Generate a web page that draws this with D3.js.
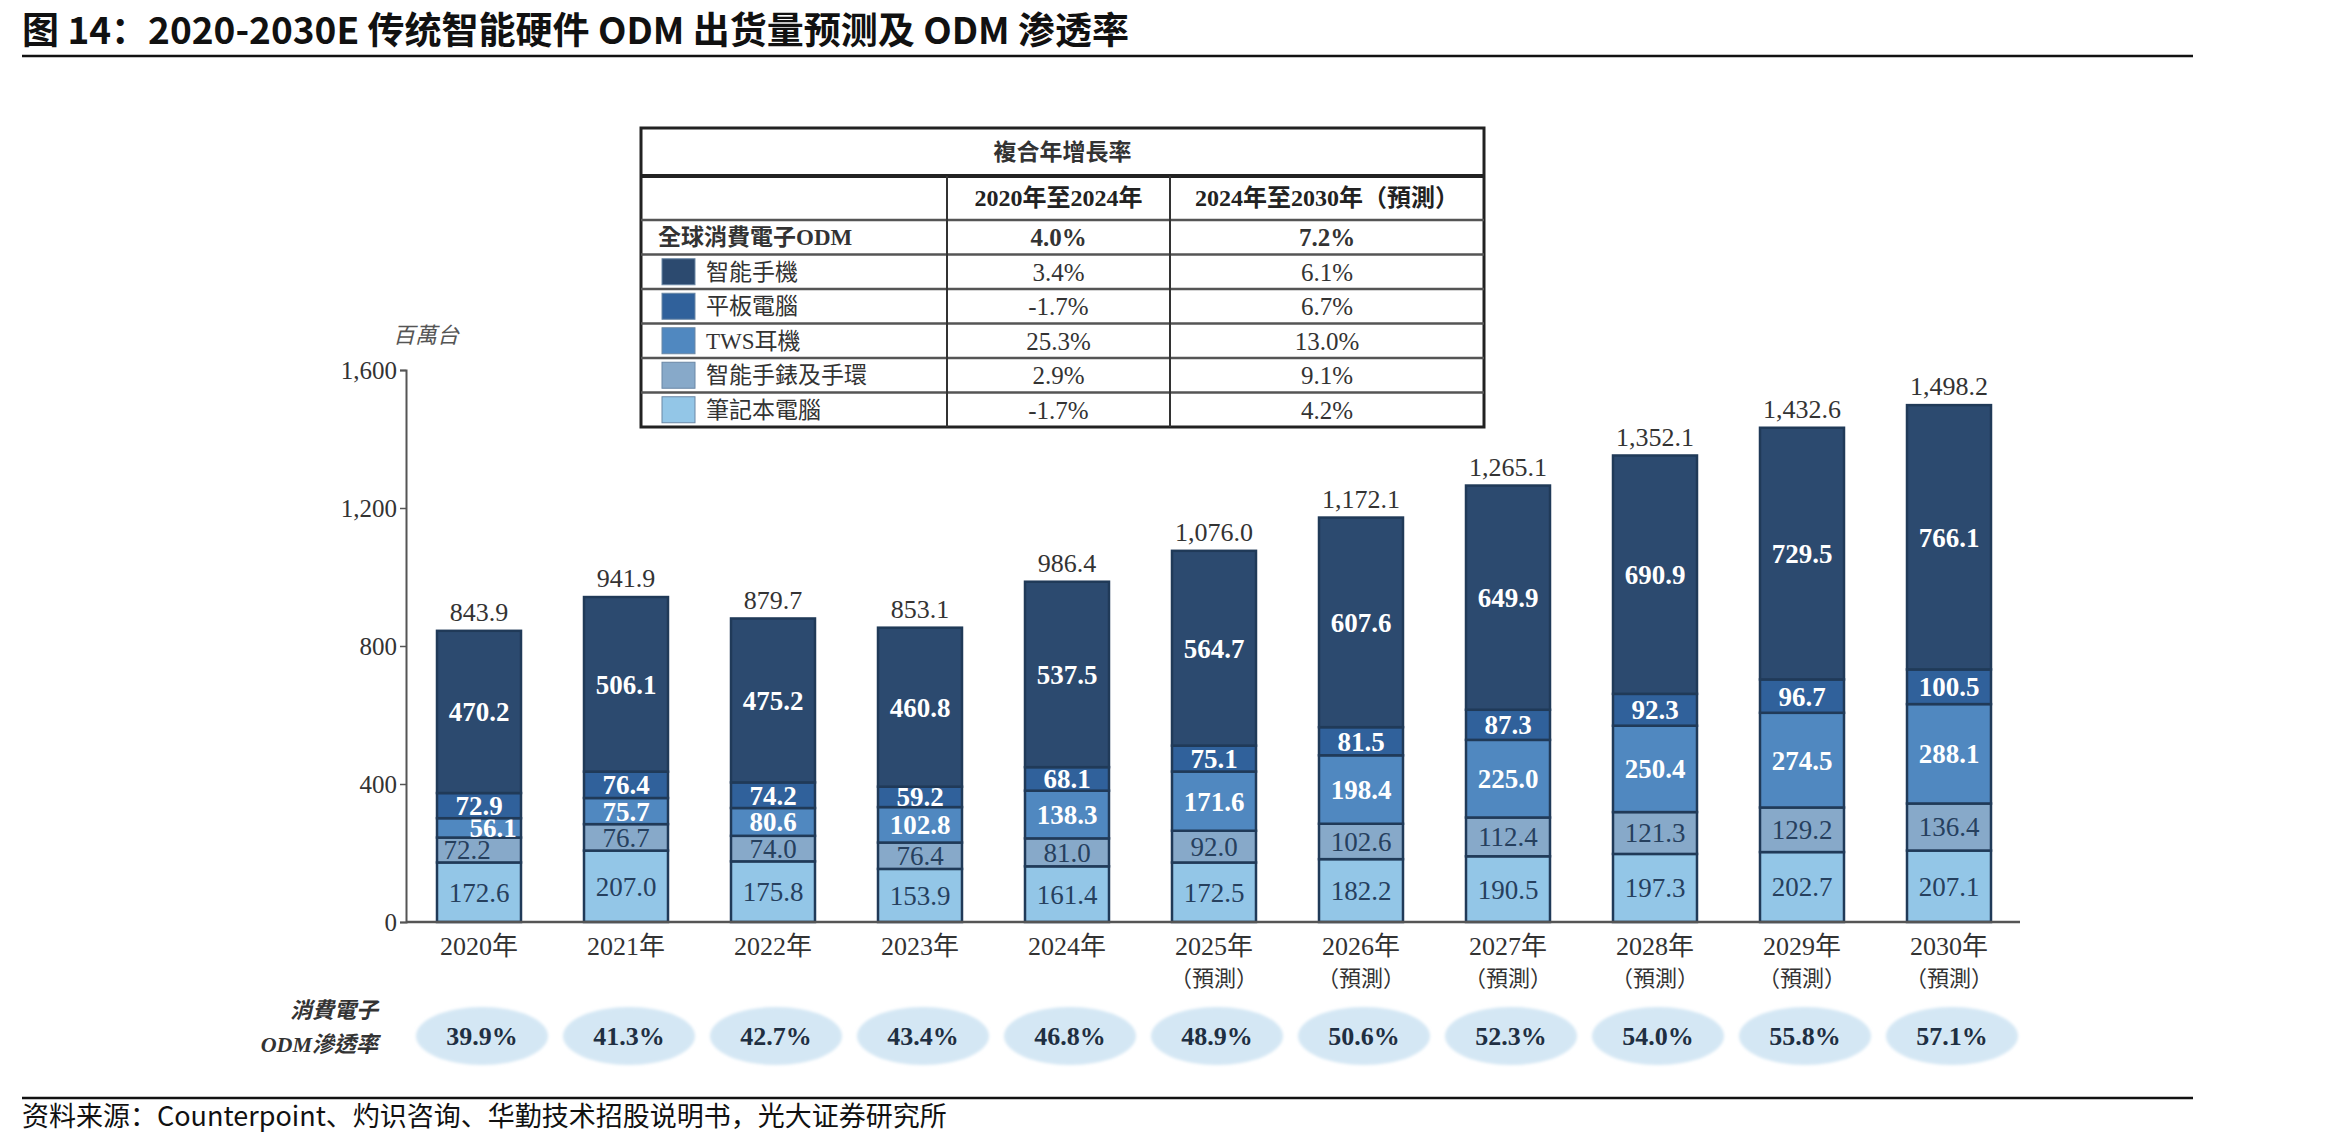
<!DOCTYPE html>
<html>
<head>
<meta charset="utf-8">
<script src="https://cdn.jsdelivr.net/npm/d3@7"></script>
<style>
  html, body { margin: 0; padding: 0; background: #fff; }
  svg { display: block; }
</style>
</head>
<body>
<svg id="chart" width="2327" height="1144"></svg>
<script>
// ---------------- DATA ----------------
const years = ["2020年","2021年","2022年","2023年","2024年","2025年","2026年","2027年","2028年","2029年","2030年"];
const forecastFlags = [false,false,false,false,false,true,true,true,true,true,true];
const seriesNames = ["智能手機","平板電腦","TWS耳機","智能手錶及手環","筆記本電腦"];
const smartphone = [470.2, 506.1, 475.2, 460.8, 537.5, 564.7, 607.6, 649.9, 690.9, 729.5, 766.1];
const tablet     = [72.9, 76.4, 74.2, 59.2, 68.1, 75.1, 81.5, 87.3, 92.3, 96.7, 100.5];
const tws        = [56.1, 75.7, 80.6, 102.8, 138.3, 171.6, 198.4, 225.0, 250.4, 274.5, 288.1];
const watch      = [72.2, 76.7, 74.0, 76.4, 81.0, 92.0, 102.6, 112.4, 121.3, 129.2, 136.4];
const notebook   = [172.6, 207.0, 175.8, 153.9, 161.4, 172.5, 182.2, 190.5, 197.3, 202.7, 207.1];
const totals     = [843.9, 941.9, 879.7, 853.1, 986.4, 1076.0, 1172.1, 1265.1, 1352.1, 1432.6, 1498.2];
const penetration = [39.9, 41.3, 42.7, 43.4, 46.8, 48.9, 50.6, 52.3, 54.0, 55.8, 57.1];
const yTicks = [0, 400, 800, 1200, 1600];
const cagrRowNames = ["全球消費電子ODM","智能手機","平板電腦","TWS耳機","智能手錶及手環","筆記本電腦"];
const cagr2020to2024 = ["4.0%","3.4%","-1.7%","25.3%","2.9%","-1.7%"];
const cagr2024to2030 = ["7.2%","6.1%","6.7%","13.0%","9.1%","4.2%"];
const tableTitle = "複合年增長率";
const tableHeaders = ["2020年至2024年","2024年至2030年（預測）"];
const titleText = "图 14：2020-2030E 传统智能硬件 ODM 出货量预测及 ODM 渗透率";
const sourceText = "资料来源：Counterpoint、灼识咨询、华勤技术招股说明书，光大证券研究所";
const unitText = "百萬台";
const penLabel = ["消費電子","ODM滲透率"];
const forecastText = "（預測）";

// ---------------- STYLE ----------------
const serif = "'Liberation Serif','Times New Roman','Noto Sans CJK TC',serif";
const cjk = "'Noto Sans CJK SC','Noto Sans CJK TC',sans-serif";
const colors = {
  "智能手機": "#2c4a6f",
  "平板電腦": "#30619b",
  "TWS耳機": "#5088c0",
  "智能手錶及手環": "#87a9c9",
  "筆記本電腦": "#93c6e7"
};
const labelStyle = {
  "智能手機": {fill:"#ffffff", weight:"bold"},
  "平板電腦": {fill:"#ffffff", weight:"bold"},
  "TWS耳機": {fill:"#ffffff", weight:"bold"},
  "智能手錶及手環": {fill:"#26405e", weight:"normal"},
  "筆記本電腦": {fill:"#26405e", weight:"normal"}
};

const svg = d3.select("#chart");

// ---------------- TITLE / FRAME ----------------
svg.append("text").attr("x", 22).attr("y", 44)
  .attr("font-family", cjk).attr("font-weight", 700).attr("font-size", 37)
  .attr("fill", "#111").text(titleText);
svg.append("line").attr("x1", 22).attr("x2", 2193).attr("y1", 56).attr("y2", 56)
  .attr("stroke", "#111").attr("stroke-width", 2.5);
svg.append("line").attr("x1", 22).attr("x2", 2193).attr("y1", 1098).attr("y2", 1098)
  .attr("stroke", "#111").attr("stroke-width", 2.5);
svg.append("text").attr("x", 22).attr("y", 1126)
  .attr("font-family", cjk).attr("font-size", 27).attr("fill", "#111").text(sourceText);

// ---------------- SCALES ----------------
const x = d3.scaleBand().domain(years).range([405.5, 2022.5])
  .paddingInner(0.4286).paddingOuter(0.2143);
const y = d3.scaleLinear().domain([0, 1600]).range([922, 370]);

// stacked data
const rows = years.map((yr, i) => ({
  year: yr,
  "智能手機": smartphone[i], "平板電腦": tablet[i], "TWS耳機": tws[i],
  "智能手錶及手環": watch[i], "筆記本電腦": notebook[i]
}));
const stackKeys = ["筆記本電腦","智能手錶及手環","TWS耳機","平板電腦","智能手機"];
const stacked = d3.stack().keys(stackKeys)(rows);

// ---------------- AXES ----------------
const yAxis = d3.axisLeft(y).tickValues(yTicks).tickSize(6).tickPadding(3)
  .tickFormat(d3.format(","));
const yg = svg.append("g").attr("transform", `translate(${406},0)`).call(yAxis);
yg.select(".domain").attr("stroke", "#555").attr("stroke-width", 2);
yg.selectAll(".tick line").attr("stroke", "#555").attr("stroke-width", 1.5);
yg.selectAll(".tick text").attr("font-family", serif).attr("font-size", 25).attr("fill", "#333");

svg.append("text").attr("x", 426).attr("y", 343).attr("text-anchor", "middle")
  .attr("font-family", cjk).attr("font-style", "italic").attr("font-size", 22)
  .attr("fill", "#555").text(unitText);

// ---------------- BARS ----------------
const layers = svg.append("g").selectAll("g.layer").data(stacked).join("g")
  .attr("class", "layer").attr("fill", d => colors[d.key]);
layers.selectAll("rect").data(d => d.map(v => Object.assign(v, {key: d.key}))).join("rect")
  .attr("x", d => x(d.data.year))
  .attr("width", x.bandwidth())
  .attr("y", d => y(d[1]))
  .attr("height", d => y(d[0]) - y(d[1]))
  .attr("stroke", "#203a58").attr("stroke-width", 2.5);

// segment labels
const labelOffsets = {"2020年|TWS耳機": 14, "2020年|智能手錶及手環": -12};
layers.selectAll("text").data(d => d).join("text")
  .attr("x", d => x(d.data.year) + x.bandwidth() / 2 + (labelOffsets[d.data.year + "|" + d.key] || 0))
  .attr("y", d => (y(d[0]) + y(d[1])) / 2)
  .attr("dy", "0.35em")
  .attr("text-anchor", "middle")
  .attr("font-family", serif)
  .attr("font-size", 27)
  .attr("font-weight", d => labelStyle[d.key].weight)
  .attr("fill", d => labelStyle[d.key].fill)
  .text(d => d3.format(".1f")(d[1] - d[0]));

// total labels
svg.append("g").selectAll("text").data(years).join("text")
  .attr("x", d => x(d) + x.bandwidth() / 2)
  .attr("y", (d, i) => y(totals[i]) - 10)
  .attr("text-anchor", "middle")
  .attr("font-family", serif).attr("font-size", 26).attr("fill", "#333")
  .text((d, i) => d3.format(",.1f")(totals[i]));

// x axis
const xAxis = d3.axisBottom(x).tickSize(0).tickPadding(8);
const xg = svg.append("g").attr("transform", `translate(0,${922})`).call(xAxis);
xg.select(".domain").attr("stroke", "#555").attr("stroke-width", 2.5)
  .attr("d", "M406,0H2020");
xg.selectAll(".tick text").attr("font-family", serif).attr("font-size", 26).attr("fill", "#333")
  .attr("dy", "0.95em");
xg.selectAll(".tick").each(function(d, i) {
  if (forecastFlags[i]) {
    d3.select(this).append("text").attr("y", 64).attr("text-anchor", "middle")
      .attr("font-family", serif).attr("font-size", 22).attr("fill", "#333")
      .text(forecastText);
  }
});

// ---------------- PENETRATION ELLIPSES ----------------
const defs = svg.append("defs");
defs.append("filter").attr("id", "soft").append("feGaussianBlur").attr("stdDeviation", 1.5);
const pen = svg.append("g");
pen.selectAll("ellipse").data(years).join("ellipse")
  .attr("cx", d => x(d) + x.bandwidth() / 2 + 3)
  .attr("cy", 1036).attr("rx", 66).attr("ry", 29)
  .attr("fill", "#d4e7f4").attr("filter", "url(#soft)");
pen.selectAll("text").data(years).join("text")
  .attr("x", d => x(d) + x.bandwidth() / 2 + 3)
  .attr("y", 1036).attr("dy", "0.35em").attr("text-anchor", "middle")
  .attr("font-family", serif).attr("font-weight", "bold").attr("font-size", 26)
  .attr("fill", "#1f2f42")
  .text((d, i) => d3.format(".1f")(penetration[i]) + "%");
svg.append("g").selectAll("text").data(penLabel).join("text")
  .attr("x", 378).attr("y", (d, i) => 1018 + i * 34)
  .attr("text-anchor", "end")
  .attr("font-family", "'Liberation Serif','Noto Sans CJK TC',serif")
  .attr("font-style", "italic").attr("font-weight", "bold").attr("font-size", 22)
  .attr("fill", "#333").text(d => d);

// ---------------- CAGR TABLE ----------------
const tX0 = 641, tX1 = 947, tX2 = 1170, tX3 = 1484;
const tTop = 128, tTitleBottom = 176, tHeadBottom = 220;
const rowY = d3.scaleBand().domain(cagrRowNames).range([tHeadBottom, 427]);
const tg = svg.append("g");
tg.append("rect").attr("x", tX0).attr("y", tTop).attr("width", tX3 - tX0).attr("height", 427 - tTop)
  .attr("fill", "#fff").attr("stroke", "#222").attr("stroke-width", 3);
tg.append("line").attr("x1", tX0).attr("x2", tX3).attr("y1", tTitleBottom).attr("y2", tTitleBottom)
  .attr("stroke", "#222").attr("stroke-width", 4);
tg.append("line").attr("x1", tX0).attr("x2", tX3).attr("y1", tHeadBottom).attr("y2", tHeadBottom)
  .attr("stroke", "#555").attr("stroke-width", 2.5);
tg.selectAll("line.row").data(cagrRowNames.slice(1)).join("line").attr("class", "row")
  .attr("x1", tX0).attr("x2", tX3)
  .attr("y1", d => rowY(d)).attr("y2", d => rowY(d))
  .attr("stroke", "#555").attr("stroke-width", 2.5);
[tX1, tX2].forEach(xx => tg.append("line").attr("x1", xx).attr("x2", xx)
  .attr("y1", tTitleBottom).attr("y2", 427).attr("stroke", "#333").attr("stroke-width", 2));
tg.append("text").attr("x", (tX0 + tX3) / 2).attr("y", (tTop + tTitleBottom) / 2).attr("dy", "0.35em")
  .attr("text-anchor", "middle").attr("font-family", serif).attr("font-weight", "bold")
  .attr("font-size", 23).attr("fill", "#333").text(tableTitle);
tg.selectAll("text.head").data(tableHeaders).join("text").attr("class", "head")
  .attr("x", (d, i) => i === 0 ? (tX1 + tX2) / 2 : (tX2 + tX3) / 2)
  .attr("y", (tTitleBottom + tHeadBottom) / 2).attr("dy", "0.35em")
  .attr("text-anchor", "middle").attr("font-family", serif).attr("font-weight", "bold")
  .attr("font-size", 24).attr("fill", "#222").text(d => d);
// row names
tg.selectAll("text.name").data(cagrRowNames).join("text").attr("class", "name")
  .attr("x", (d, i) => i === 0 ? 658 : 706)
  .attr("y", d => rowY(d) + rowY.bandwidth() / 2).attr("dy", "0.35em")
  .attr("font-family", serif).attr("font-weight", (d, i) => i === 0 ? "bold" : "normal")
  .attr("font-size", 23).attr("fill", "#333").text(d => d);
// swatches
tg.selectAll("rect.sw").data(cagrRowNames.slice(1)).join("rect").attr("class", "sw")
  .attr("x", 662).attr("width", 33)
  .attr("y", d => rowY(d) + rowY.bandwidth() / 2 - 13).attr("height", 26)
  .attr("fill", d => colors[d]).attr("stroke", "#6a87a5").attr("stroke-width", 1);
// values
tg.selectAll("text.v1").data(cagr2020to2024).join("text").attr("class", "v1")
  .attr("x", (tX1 + tX2) / 2)
  .attr("y", (d, i) => rowY(cagrRowNames[i]) + rowY.bandwidth() / 2).attr("dy", "0.35em")
  .attr("text-anchor", "middle").attr("font-family", serif)
  .attr("font-weight", (d, i) => i === 0 ? "bold" : "normal")
  .attr("font-size", 25).attr("fill", "#333").text(d => d);
tg.selectAll("text.v2").data(cagr2024to2030).join("text").attr("class", "v2")
  .attr("x", (tX2 + tX3) / 2)
  .attr("y", (d, i) => rowY(cagrRowNames[i]) + rowY.bandwidth() / 2).attr("dy", "0.35em")
  .attr("text-anchor", "middle").attr("font-family", serif)
  .attr("font-weight", (d, i) => i === 0 ? "bold" : "normal")
  .attr("font-size", 25).attr("fill", "#333").text(d => d);
</script>
</body>
</html>
